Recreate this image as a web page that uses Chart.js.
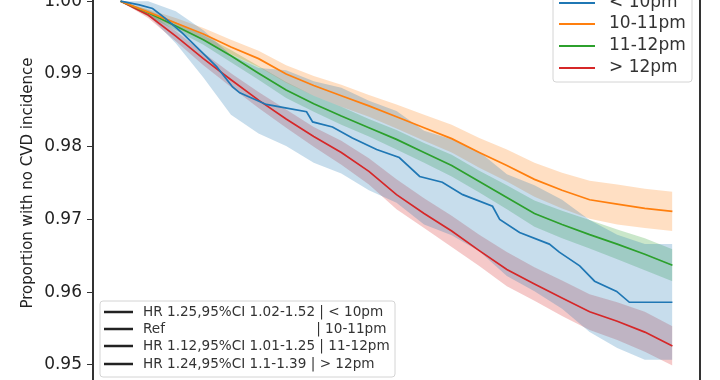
<!DOCTYPE html>
<html>
<head>
<meta charset="utf-8">
<script src="https://cdn.jsdelivr.net/npm/chart.js@4.4.1/dist/chart.umd.min.js"></script>
<style>
  html, body { margin: 0; padding: 0; background: #fff; overflow: hidden; }
  #wrap { position: relative; width: 720px; height: 380px; overflow: hidden; }
  #wrap canvas { position: absolute; left: 0; top: -60px; }
</style>
</head>
<body>
<div id="wrap"><canvas id="kmChart" width="720" height="500"></canvas></div>
<script>
// follow-up time grid (years) shared by the smooth curves and the bands
const timeGrid = [0, 0.5, 1, 1.5, 2, 2.5, 3, 3.5, 4, 4.5, 5, 5.5, 6, 6.5, 7, 7.5, 8, 8.5, 9, 9.5, 10];

// 10-11pm
const orangeSurv = [1.0000, .9985, .9970, .9955, .9937, .9921, .9900, .9884, .9870, .9856, .9841, .9826, .9811, .9792, .9774, .9755, .9740, .9727, .9721, .9715, .9711];
const orangeHigh = [1.0000, .9989, .9977, .9963, .9947, .9932, .9912, .9897, .9885, .9871, .9858, .9844, .9830, .9812, .9796, .9778, .9764, .9753, .9748, .9742, .9738];
const orangeLow  = [1.0000, .9981, .9963, .9947, .9927, .9910, .9888, .9870, .9855, .9841, .9825, .9808, .9792, .9771, .9752, .9731, .9715, .9701, .9693, .9688, .9684];

// 11-12pm
const greenSurv = [1.0000, .9984, .9966, .9947, .9925, .9901, .9878, .9859, .9842, .9826, .9810, .9792, .9774, .9752, .9730, .9708, .9693, .9679, .9666, .9652, .9637];
const greenHigh = [1.0000, .9988, .9971, .9953, .9933, .9911, .9889, .9870, .9855, .9838, .9823, .9805, .9789, .9767, .9747, .9726, .9712, .9699, .9686, .9674, .9659];
const greenLow  = [1.0000, .9979, .9960, .9940, .9916, .9892, .9867, .9848, .9830, .9814, .9796, .9778, .9759, .9737, .9714, .9690, .9674, .9660, .9645, .9630, .9615];

// > 12pm
const redSurv = [1.0000, .9981, .9952, .9921, .9892, .9864, .9838, .9814, .9792, .9766, .9734, .9708, .9684, .9657, .9631, .9611, .9592, .9573, .9560, .9545, .9526];
const redHigh = [1.0000, .9985, .9959, .9929, .9901, .9875, .9851, .9827, .9808, .9784, .9755, .9729, .9705, .9679, .9655, .9634, .9616, .9597, .9586, .9573, .9553];
const redLow  = [1.0000, .9977, .9945, .9912, .9882, .9853, .9826, .9800, .9775, .9748, .9714, .9688, .9662, .9636, .9608, .9588, .9567, .9548, .9534, .9518, .9499];

// < 10pm (its curve has its own times)
const blueTimes = [0, 0.34, 0.58, 0.80, 1.12, 1.43, 1.74, 2.03, 2.16, 2.64, 3.01, 3.37, 3.48, 3.84, 4.20, 4.64, 5.05, 5.42, 5.83, 6.20, 6.74, 6.87, 7.23, 7.77, 7.95, 8.32, 8.59, 8.99, 9.22, 10];
const blueSurv  = [1.0000, .9995, .9990, .9977, .9956, .9933, .9910, .9882, .9874, .9858, .9853, .9848, .9834, .9827, .9812, .9796, .9785, .9759, .9751, .9734, .9718, .9700, .9682, .9666, .9655, .9636, .9615, .9601, .9586, .9586];
const blueHigh  = [1.0000, 1.0000, .9986, .9960, .9926, .9908, .9905, .9890, .9881, .9863, .9849, .9822, .9810, .9793, .9762, .9747, .9727, .9699, .9679, .9666, .9666];
const blueLow   = [1.0000, .9981, .9942, .9895, .9844, .9818, .9801, .9778, .9763, .9740, .9723, .9693, .9678, .9656, .9622, .9601, .9577, .9545, .9523, .9507, .9507];

const groupLabels = ['< 10pm', '10-11pm', '11-12pm', '> 12pm'];
const hrLabels = [
  'HR 1.25,95%CI 1.02-1.52 | < 10pm',
  'Ref                                   | 10-11pm',
  'HR 1.12,95%CI 1.01-1.25 | 11-12pm',
  'HR 1.24,95%CI 1.1-1.39 | > 12pm'
];
const yTicks = [0.95, 0.96, 0.97, 0.98, 0.99, 1.00];
const yTickLabels = ['0.95', '0.96', '0.97', '0.98', '0.99', '1.00'];

const colors = ['#1f77b4', '#ff7f0e', '#2ca02c', '#d62728'];
const bands = ['rgba(31,119,180,0.25)', 'rgba(255,127,14,0.25)', 'rgba(44,160,44,0.25)', 'rgba(214,39,40,0.25)'];

const pts = (xs, ys) => xs.map((x, i) => ({ x: x, y: ys[i] }));

function line(i, xs, ys) {
  return { label: groupLabels[i], data: pts(xs, ys), borderColor: colors[i], borderWidth: 1.7,
           pointRadius: 0, fill: false, tension: 0, order: 0 };
}
function bandPair(i, hi, lo) {
  return [
    { data: pts(timeGrid, hi), borderWidth: 0, pointRadius: 0, fill: '+1', backgroundColor: bands[i], order: 1 },
    { data: pts(timeGrid, lo), borderWidth: 0, pointRadius: 0, fill: false, order: 1 }
  ];
}

const datasets = [
  line(0, blueTimes, blueSurv),
  line(1, timeGrid, orangeSurv),
  line(2, timeGrid, greenSurv),
  line(3, timeGrid, redSurv),
  ...bandPair(0, blueHigh, blueLow),
  ...bandPair(1, orangeHigh, orangeLow),
  ...bandPair(2, greenHigh, greenLow),
  ...bandPair(3, redHigh, redLow)
];

const FONT = 'DejaVu Sans';

function box(ctx, x, y, w, h) {
  ctx.beginPath();
  ctx.roundRect(x, y, w, h, 3);
  ctx.fillStyle = 'rgba(255,255,255,0.8)';
  ctx.fill();
  ctx.strokeStyle = '#d4d4d4';
  ctx.lineWidth = 1;
  ctx.stroke();
}

const legendPlugin = {
  id: 'kmLegends',
  afterDraw(chart) {
    const ctx = chart.ctx;
    const a = chart.chartArea;
    ctx.save();
    // right spine
    ctx.strokeStyle = '#333';
    ctx.lineWidth = 2;
    ctx.beginPath();
    ctx.moveTo(a.right, a.top);
    ctx.lineTo(a.right, a.bottom);
    ctx.stroke();

    // group legend, upper right
    box(ctx, a.right - 147, a.top + 7, 139, 92);
    ctx.font = '17px "' + FONT + '"';
    ctx.textBaseline = 'middle';
    const rowY = [20, 41, 63, 85];
    groupLabels.forEach((lab, i) => {
      const y = a.top + rowY[i];
      ctx.strokeStyle = colors[i];
      ctx.lineWidth = 2;
      ctx.beginPath();
      ctx.moveTo(a.right - 141, y);
      ctx.lineTo(a.right - 105, y);
      ctx.stroke();
      ctx.fillStyle = '#333';
      ctx.fillText(lab, a.right - 91, y);
    });

    // hazard ratio legend, lower left
    box(ctx, a.left + 7, a.top + 318, 295, 76);
    ctx.font = '13.6px "' + FONT + '"';
    const hrY = [329, 346, 363, 381];
    hrLabels.forEach((lab, i) => {
      const y = a.top + hrY[i];
      ctx.strokeStyle = '#222';
      ctx.lineWidth = 2.5;
      ctx.beginPath();
      ctx.moveTo(a.left + 11, y);
      ctx.lineTo(a.left + 40, y);
      ctx.stroke();
      ctx.fillStyle = '#333';
      ctx.fillText(lab, a.left + 50, y);
    });
    ctx.restore();
  }
};

new Chart(document.getElementById('kmChart'), {
  type: 'line',
  data: { datasets: datasets },
  plugins: [legendPlugin],
  options: {
    responsive: false,
    animation: false,
    layout: { padding: { top: 43, bottom: 57, left: 0, right: 20 } },
    plugins: { legend: { display: false }, tooltip: { enabled: false } },
    scales: {
      x: { type: 'linear', min: -0.5, max: 10.5, display: false },
      y: {
        min: 0.9475,
        max: 1.0025,
        afterFit: s => { s.width = 93; },
        afterBuildTicks: s => { s.ticks = yTicks.map(v => ({ value: v })); },
        border: { display: true, color: '#333', width: 2 },
        grid: { drawOnChartArea: false, drawTicks: true, tickLength: 6, color: '#333' },
        ticks: {
          padding: 5,
          color: '#222',
          font: { family: FONT, size: 17 },
          callback: (v, i) => yTickLabels[i]
        },
        title: {
          display: true,
          text: 'Proportion with no CVD incidence',
          color: '#222',
          font: { family: FONT, size: 15 },
          padding: { top: 19, bottom: 0 }
        }
      }
    }
  }
});
</script>
</body>
</html>
